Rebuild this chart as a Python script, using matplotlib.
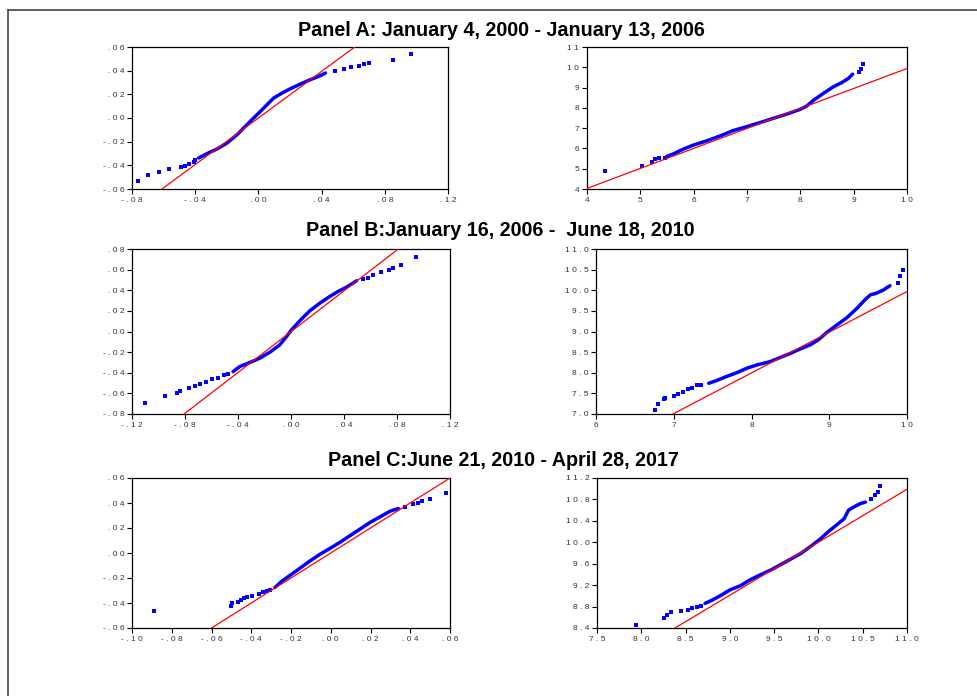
import matplotlib
matplotlib.use("Agg")
import matplotlib.pyplot as plt
from matplotlib.lines import Line2D

plt.rcParams['font.family'] = ['Liberation Sans', 'DejaVu Sans']

# ---------------- DATA ----------------
titles = ["Panel A: January 4, 2000 - January 13, 2006",
          "Panel B:January 16, 2006 -  June 18, 2010",
          "Panel C:June 21, 2010 - April 28, 2017"]

# Panel A, left
a1_body_x = [-0.0378, -0.0325, -0.0262, -0.0198, -0.0135, -0.0072, -0.003, 0.0013, 0.0055,
             0.0097, 0.015, 0.0203, 0.0266, 0.0329, 0.0392, 0.0424]
a1_body_y = [-0.0338, -0.0301, -0.0262, -0.0211, -0.0141, -0.0056, 0.0, 0.0056, 0.0113,
             0.0169, 0.0211, 0.0248, 0.0287, 0.0324, 0.0358, 0.038]
a1_tail_x = [-0.0762, -0.0698, -0.063, -0.0563, -0.0487, -0.0462, -0.0441, -0.041, -0.040,
             0.0487, 0.054, 0.0586, 0.0635, 0.0667, 0.0698, 0.0852, 0.0968]
a1_tail_y = [-0.053, -0.0482, -0.046, -0.0428, -0.0417, -0.0403, -0.0392, -0.037, -0.0352,
             0.0397, 0.0414, 0.0428, 0.0442, 0.0456, 0.0468, 0.0493, 0.0544]
a1_ref_x = [-0.061, 0.061]
a1_ref_y = [-0.060, 0.060]
a1_xticks = [-0.08, -0.04, 0.0, 0.04, 0.08, 0.12]
a1_xlabels = ["-.08", "-.04", ".00", ".04", ".08", ".12"]
a1_yticks = [-0.06, -0.04, -0.02, 0.0, 0.02, 0.04, 0.06]
a1_ylabels = ["-.06", "-.04", "-.02", ".00", ".02", ".04", ".06"]
a1_xlim = (-0.08, 0.12)
a1_ylim = (-0.06, 0.06)

# Panel A, right
a2_body_x = [5.49, 5.62, 5.80, 5.99, 6.24, 6.49, 6.74, 6.99, 7.24, 7.49, 7.74, 7.99, 8.12,
             8.25, 8.43, 8.62, 8.78, 8.90, 8.98]
a2_body_y = [5.60, 5.73, 5.96, 6.16, 6.37, 6.61, 6.88, 7.07, 7.27, 7.48, 7.69, 7.92, 8.09,
             8.38, 8.71, 9.04, 9.25, 9.45, 9.66]
a2_tail_x = [4.34, 5.04, 5.21, 5.27, 5.35, 5.46, 9.10, 9.13, 9.17]
a2_tail_y = [4.90, 5.14, 5.35, 5.47, 5.52, 5.55, 9.77, 9.90, 10.15]
a2_ref_x = [4.0, 10.0]
a2_ref_y = [4.03, 9.94]
a2_xticks = [4, 5, 6, 7, 8, 9, 10]
a2_xlabels = ["4", "5", "6", "7", "8", "9", "10"]
a2_yticks = [4, 5, 6, 7, 8, 9, 10, 11]
a2_ylabels = ["4", "5", "6", "7", "8", "9", "10", "11"]
a2_xlim = (4, 10)
a2_ylim = (4, 11)

# Panel B, left
b1_body_x = [-0.0437, -0.0387, -0.0311, -0.0236, -0.016, -0.0085, -0.0034, 0.0004, 0.0067,
             0.0142, 0.0218, 0.0293, 0.0356, 0.0407, 0.0457, 0.0495]
b1_body_y = [-0.0389, -0.034, -0.0301, -0.0259, -0.0201, -0.013, -0.0049, 0.0016, 0.0104,
             0.0201, 0.0275, 0.034, 0.0389, 0.0421, 0.046, 0.0492]
b1_tail_x = [-0.110, -0.0953, -0.0857, -0.0835, -0.077, -0.0727, -0.0689, -0.0643, -0.060,
             -0.055, -0.0505, -0.0475,
             0.0546, 0.0583, 0.062, 0.0679, 0.0742, 0.0772, 0.083, 0.0943]
b1_tail_y = [-0.0696, -0.0628, -0.0593, -0.0573, -0.0544, -0.0525, -0.0508, -0.0486, -0.046,
             -0.0447, -0.0421, -0.0415,
             0.0508, 0.0518, 0.055, 0.0573, 0.0593, 0.0612, 0.0648, 0.0719]
b1_ref_x = [-0.0807, 0.081]
b1_ref_y = [-0.080, 0.080]
b1_xticks = [-0.12, -0.08, -0.04, 0.0, 0.04, 0.08, 0.12]
b1_xlabels = ["-.12", "-.08", "-.04", ".00", ".04", ".08", ".12"]
b1_yticks = [-0.08, -0.06, -0.04, -0.02, 0.0, 0.02, 0.04, 0.06, 0.08]
b1_ylabels = ["-.08", "-.06", "-.04", "-.02", ".00", ".02", ".04", ".06", ".08"]
b1_xlim = (-0.12, 0.12)
b1_ylim = (-0.08, 0.08)

# Panel B, right
b2_body_x = [7.45, 7.55, 7.68, 7.81, 7.94, 8.07, 8.24, 8.37, 8.50, 8.63, 8.76, 8.86, 8.97,
             9.10, 9.23, 9.36, 9.46, 9.53, 9.61, 9.70, 9.78]
b2_body_y = [7.745, 7.81, 7.91, 8.00, 8.11, 8.19, 8.27, 8.37, 8.47, 8.58, 8.68, 8.80, 8.98,
             9.16, 9.34, 9.57, 9.77, 9.89, 9.93, 10.01, 10.11]
b2_tail_x = [6.76, 6.80, 6.88, 6.89, 7.00, 7.05, 7.12, 7.18, 7.23, 7.30, 7.35, 9.88, 9.91, 9.95]
b2_tail_y = [7.10, 7.25, 7.36, 7.39, 7.445, 7.48, 7.53, 7.60, 7.64, 7.70, 7.70, 10.17, 10.34, 10.50]
b2_ref_x = [6.99, 10.0]
b2_ref_y = [7.0, 9.97]
b2_xticks = [6, 7, 8, 9, 10]
b2_xlabels = ["6", "7", "8", "9", "10"]
b2_yticks = [7.0, 7.5, 8.0, 8.5, 9.0, 9.5, 10.0, 10.5, 11.0]
b2_ylabels = ["7.0", "7.5", "8.0", "8.5", "9.0", "9.5", "10.0", "10.5", "11.0"]
b2_xlim = (6, 10)
b2_ylim = (7, 11)

# Panel C, left
c1_body_x = [-0.0281, -0.0248, -0.0206, -0.0155, -0.0105, -0.0055, -0.0004, 0.0046, 0.0096,
             0.0147, 0.0197, 0.0248, 0.0298, 0.034]
c1_body_y = [-0.0276, -0.0228, -0.018, -0.0122, -0.0064, -0.0011, 0.0037, 0.0085, 0.0138,
             0.0191, 0.0244, 0.0289, 0.0334, 0.0356]
c1_tail_x = [-0.0891, -0.050, -0.0495, -0.0467, -0.045, -0.0437, -0.0421, -0.0394, -0.036,
             -0.034, -0.0323, -0.0306,
             0.0374, 0.0413, 0.0441, 0.0458, 0.050, 0.058]
c1_tail_y = [-0.0467, -0.0425, -0.040, -0.0388, -0.0374, -0.0356, -0.035, -0.0342, -0.0327,
             -0.0313, -0.0303, -0.0292,
             0.0369, 0.039, 0.0401, 0.0414, 0.0435, 0.0478]
c1_ref_x = [-0.060, 0.060]
c1_ref_y = [-0.060, 0.060]
c1_xticks = [-0.10, -0.08, -0.06, -0.04, -0.02, 0.0, 0.02, 0.04, 0.06]
c1_xlabels = ["-.10", "-.08", "-.06", "-.04", "-.02", ".00", ".02", ".04", ".06"]
c1_yticks = [-0.06, -0.04, -0.02, 0.0, 0.02, 0.04, 0.06]
c1_ylabels = ["-.06", "-.04", "-.02", ".00", ".02", ".04", ".06"]
c1_xlim = (-0.10, 0.06)
c1_ylim = (-0.06, 0.06)

# Panel C, right
c2_body_x = [8.72, 8.80, 8.89, 9.00, 9.12, 9.23, 9.34, 9.46, 9.57, 9.68, 9.80, 9.91, 10.02,
             10.12, 10.21, 10.29, 10.34, 10.40, 10.47, 10.53]
c2_body_y = [8.86, 8.92, 9.00, 9.11, 9.19, 9.30, 9.39, 9.48, 9.58, 9.68, 9.79, 9.92, 10.06,
             10.21, 10.33, 10.44, 10.60, 10.66, 10.72, 10.75]
c2_tail_x = [7.944, 8.253, 8.29, 8.34, 8.45, 8.53, 8.57, 8.63, 8.67, 10.59, 10.64, 10.67, 10.69]
c2_tail_y = [8.462, 8.586, 8.65, 8.69, 8.72, 8.74, 8.77, 8.80, 8.81, 10.80, 10.88, 10.94, 11.05]
c2_ref_x = [8.38, 11.0]
c2_ref_y = [8.40, 10.99]
c2_xticks = [7.5, 8.0, 8.5, 9.0, 9.5, 10.0, 10.5, 11.0]
c2_xlabels = ["7.5", "8.0", "8.5", "9.0", "9.5", "10.0", "10.5", "11.0"]
c2_yticks = [8.4, 8.8, 9.2, 9.6, 10.0, 10.4, 10.8, 11.2]
c2_ylabels = ["8.4", "8.8", "9.2", "9.6", "10.0", "10.4", "10.8", "11.2"]
c2_xlim = (7.5, 11.0)
c2_ylim = (8.4, 11.2)

# ---------------- FIGURE ----------------
W, H = 977, 696
fig = plt.figure(figsize=(W / 100, H / 100), dpi=100)
fig.patch.set_facecolor("white")

# outer frame (left and top edges)
fig.add_artist(Line2D([7.5 / W, 7.5 / W], [0, 1 - 10 / H], transform=fig.transFigure,
                      color="#444444", lw=1.2))
fig.add_artist(Line2D([7.5 / W, 1], [1 - 10 / H, 1 - 10 / H], transform=fig.transFigure,
                      color="#444444", lw=1.2))


def px_rect(x0, y0, x1, y1):
    return [x0 / W, 1 - y1 / H, (x1 - x0) / W, (y1 - y0) / H]


def spaced(s):
    return " ".join(list(s))


panels = [
    (px_rect(132, 47, 448, 189), a1_body_x, a1_body_y, a1_tail_x, a1_tail_y, a1_ref_x, a1_ref_y,
     a1_xticks, a1_xlabels, a1_yticks, a1_ylabels, a1_xlim, a1_ylim),
    (px_rect(587, 47, 907, 189), a2_body_x, a2_body_y, a2_tail_x, a2_tail_y, a2_ref_x, a2_ref_y,
     a2_xticks, a2_xlabels, a2_yticks, a2_ylabels, a2_xlim, a2_ylim),
    (px_rect(132, 249, 450, 414), b1_body_x, b1_body_y, b1_tail_x, b1_tail_y, b1_ref_x, b1_ref_y,
     b1_xticks, b1_xlabels, b1_yticks, b1_ylabels, b1_xlim, b1_ylim),
    (px_rect(596, 249, 907, 414), b2_body_x, b2_body_y, b2_tail_x, b2_tail_y, b2_ref_x, b2_ref_y,
     b2_xticks, b2_xlabels, b2_yticks, b2_ylabels, b2_xlim, b2_ylim),
    (px_rect(132, 478, 450, 628), c1_body_x, c1_body_y, c1_tail_x, c1_tail_y, c1_ref_x, c1_ref_y,
     c1_xticks, c1_xlabels, c1_yticks, c1_ylabels, c1_xlim, c1_ylim),
    (px_rect(597, 478, 907, 628), c2_body_x, c2_body_y, c2_tail_x, c2_tail_y, c2_ref_x, c2_ref_y,
     c2_xticks, c2_xlabels, c2_yticks, c2_ylabels, c2_xlim, c2_ylim),
]

blue = "#0000ff"
red = "#ff0000"

for (rect, bx, by, tx, ty, rx, ry, xt, xl, yt, yl, xlim, ylim) in panels:
    ax = fig.add_axes(rect)
    ax.plot(bx, by, color=blue, lw=2.5, solid_capstyle="round", solid_joinstyle="round",
            zorder=2)
    ax.plot(tx, ty, linestyle="none", marker="s", markersize=2.7, color=blue,
            markeredgewidth=0, zorder=2)
    ax.plot(rx, ry, color=red, lw=0.9, zorder=3)
    ax.set_xlim(*xlim)
    ax.set_ylim(*ylim)
    ax.set_xticks(xt)
    ax.set_xticklabels([spaced(s) for s in xl])
    ax.set_yticks(yt)
    ax.set_yticklabels([spaced(s) for s in yl])
    ax.tick_params(direction="out", length=3.5, width=0.8, labelsize=6.0,
                   labelcolor="#333333", color="black", pad=2)
    for sp in ax.spines.values():
        sp.set_linewidth(0.9)
        sp.set_color("black")
    ax.set_facecolor("white")

title_pos = [(501, 30), (500, 231), (503, 460)]
for t, (x, y) in zip(titles, title_pos):
    fig.text(x / W, 1 - y / H, t, ha="center", va="center", fontsize=14.2,
             fontweight="bold", color="black")

fig.savefig("out.png", dpi=100, facecolor="white")
